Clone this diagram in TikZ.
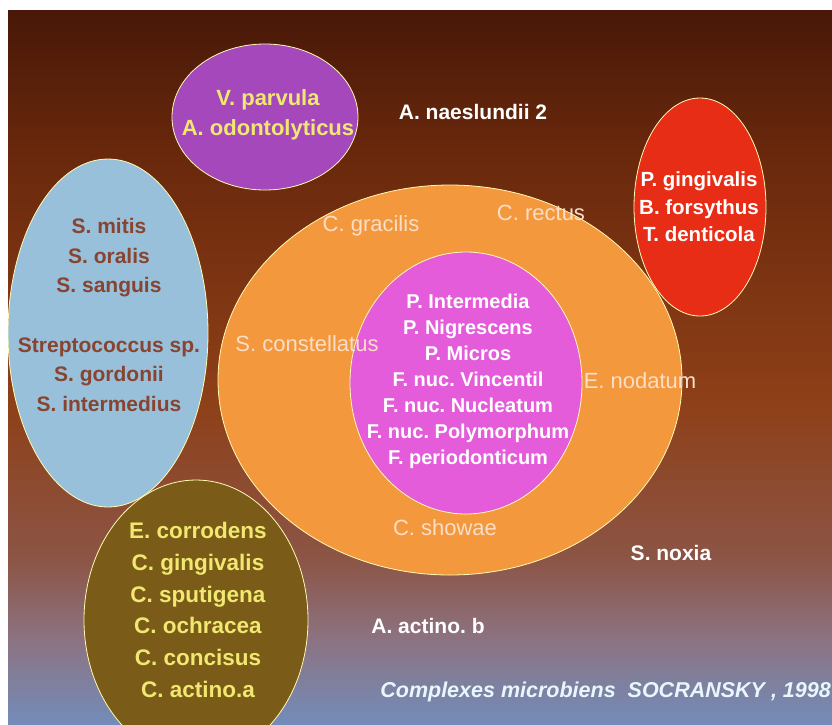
\documentclass[tikz,border=0pt]{standalone}
\usepackage{fontspec}
\setmainfont{Liberation Sans}
\usetikzlibrary{shapes.geometric}
\frenchspacing

\definecolor{bgA}{RGB}{72,24,8}
\definecolor{bgB}{RGB}{105,40,12}
\definecolor{bgC}{RGB}{142,64,24}
\definecolor{bgD}{RGB}{140,85,70}
\definecolor{bgE}{RGB}{140,115,130}
\definecolor{bgF}{RGB}{115,140,185}
\definecolor{purp}{RGB}{165,72,188}
\definecolor{skyb}{RGB}{152,192,218}
\definecolor{redc}{RGB}{232,45,22}
\definecolor{oran}{RGB}{244,152,62}
\definecolor{pinkc}{RGB}{228,92,218}
\definecolor{olive}{RGB}{122,92,24}
\definecolor{yel}{RGB}{240,232,112}
\definecolor{brn}{RGB}{135,68,48}
\definecolor{pale}{RGB}{250,222,200}

\pgfdeclareverticalshading{slide}{100bp}{color(0bp)=(bgF); color(25bp)=(bgF);
  color(30.9bp)=(bgE); color(36.5bp)=(bgD); color(47.5bp)=(bgC);
  color(65bp)=(bgB); color(75bp)=(bgA); color(100bp)=(bgA)}

\begin{document}
\begin{tikzpicture}[x=1pt,y=-1pt]
        \tikzstyle{ell}=[ellipse, draw=white!70!yellow, line width=0.8pt, inner sep=0pt]
        \tikzstyle{lab}=[font=\bfseries\fontsize{21}{27}\selectfont, align=center, inner sep=0pt]
        \tikzstyle{olab}=[font=\fontsize{22}{26}\selectfont, text=pale, inner sep=0pt]

        \useasboundingbox (0,0) rectangle (832,724);
        \fill[white] (0,0) rectangle (832,724);
        \shade[shading=slide] (8,10) rectangle (832,724);

        \begin{scope}
        \clip (8,10) rectangle (832,724);
        \node[ell, fill=purp,  minimum width=186pt, minimum height=146pt] (vpar) at (265,117) {};
        \node[ell, fill=skyb,  minimum width=200pt, minimum height=348pt] (strep) at (108,333) {};
        \node[ell, fill=redc,  minimum width=132pt, minimum height=218pt] (red) at (700,207) {};
        \node[ell, fill=oran,  minimum width=464pt, minimum height=390pt] (orange) at (450,380) {};
        \node[ell, fill=pinkc, minimum width=232pt, minimum height=262pt] (fuso) at (466,383) {};
        \node[ell, fill=olive, minimum width=224pt, minimum height=280pt] (capno) at (196,620) {};
        \end{scope}

        \node[lab, text=yel, font=\bfseries\fontsize{22}{30}\selectfont] (t-vpar) at (268,115)
            {V. parvula\\A. odontolyticus};
        \node[lab, text=white] (naes) at (473,112) {A. naeslundii 2};
        \node[lab, text=brn, font=\bfseries\fontsize{21}{29.5}\selectfont] (t-strep) at (109,315)
            {S. mitis\\S. oralis\\S. sanguis\\[30pt]Streptococcus sp.\\S. gordonii\\S. intermedius};
        \node[lab, text=white, font=\bfseries\fontsize{20.5}{27.5}\selectfont] (t-red) at (699,207)
            {P. gingivalis\\B. forsythus\\T. denticola};
        \node[lab, text=white, font=\bfseries\fontsize{20}{26}\selectfont] (t-fuso) at (468,381)
            {P. Intermedia\\P. Nigrescens\\P. Micros\\F. nuc. Vincentil\\F. nuc. Nucleatum\\F. nuc. Polymorphum\\F. periodonticum};
        \node[lab, text=yel, font=\bfseries\fontsize{22.5}{31.8}\selectfont] (t-capno) at (198,610)
            {E. corrodens\\C. gingivalis\\C. sputigena\\C. ochracea\\C. concisus\\C. actino.a};

        \node[olab] (grac) at (371,226) {C. gracilis};
        \node[olab] (rect) at (541,213) {C. rectus};
        \node[olab] (cons) at (307,344) {S. constellatus};
        \node[olab] (noda) at (640,381) {E. nodatum};
        \node[olab] (show) at (445,528) {C. showae};

        \node[lab, text=white] (noxia) at (671,553) {S. noxia};
        \node[lab, text=white] (actb) at (428,626) {A. actino. b};
        \node[lab, text=white!90!cyan, font=\bfseries\itshape\fontsize{21.5}{26}\selectfont, anchor=east] (cap) at (831,692)
            {Complexes microbiens\ \ SOCRANSKY , 1998};
\end{tikzpicture}
\end{document}
